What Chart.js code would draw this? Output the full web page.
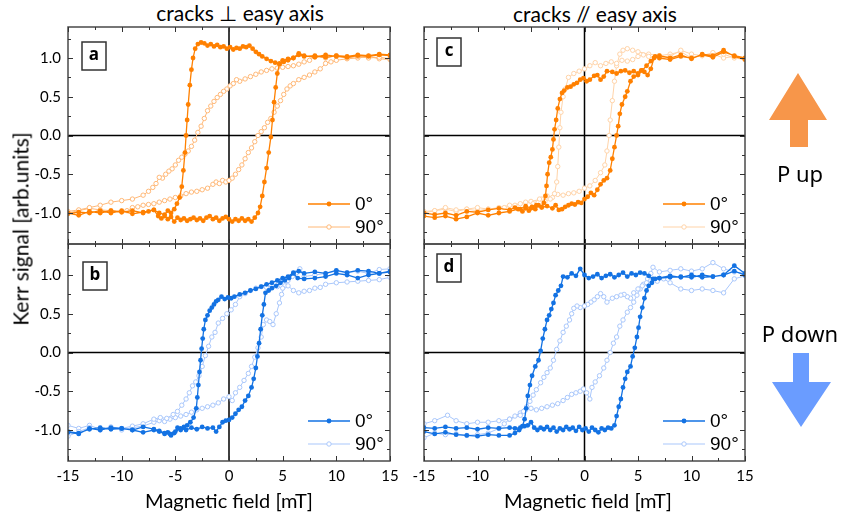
<!DOCTYPE html>
<html>
<head>
<meta charset="utf-8">
<script src="https://cdn.jsdelivr.net/npm/chart.js@4.4.1/dist/chart.umd.min.js"></script>
<style>
  body { margin: 0; background: #fff; width: 841px; height: 517px; position: relative; overflow: hidden; }
  canvas { position: absolute; }
  .t { position: absolute; white-space: nowrap; color: #000; transform: translate(-50%, -50%); }
  .col { font-family: "Lato"; font-size: 21px; top: 13px; }
  .xt { font-family: "Lato"; font-size: 20px; top: 500px; }
  .yt { font-family: "Lato"; font-size: 21px; left: 20px; top: 229px; transform: translate(-50%, -50%) rotate(-90deg); }
  .p { font-family: "Noto Sans"; font-size: 22px; left: 800px; }
</style>
</head>
<body>
<div class="t col" style="left:240px">cracks ⊥ easy axis</div>
<div class="t col" style="left:595px">cracks // easy axis</div>
<canvas id="chartA" width="410" height="257" style="left:0;top:7px"></canvas>
<canvas id="chartC" width="400" height="257" style="left:400px;top:7px"></canvas>
<canvas id="chartB" width="410" height="276" style="left:0;top:224px"></canvas>
<canvas id="chartD" width="400" height="276" style="left:400px;top:224px"></canvas>
<div class="t yt">Kerr signal [arb.units]</div>
<div class="t xt" style="left:229px">Magnetic field [mT]</div>
<div class="t xt" style="left:588px">Magnetic field [mT]</div>
<svg style="position:absolute;left:760px;top:60px" width="80" height="380">
  <polygon points="38,13 67,60 48,60 48,87 30,87 30,60 9,60" fill="#f7964a"/>
  <polygon points="33,293 49,293 49,322 71,322 41,367 12,322 33,322" fill="#6a9cff"/>
</svg>
<div class="t p" style="top:173px">P up</div>
<div class="t p" style="top:333px">P down</div>
<script>
// axis ticks
const xMajor = [-15, -10, -5, 0, 5, 10, 15];
const xMinor = [-12.5, -7.5, -2.5, 2.5, 7.5, 12.5];
const yMajor = [-1.0, -0.5, 0.0, 0.5, 1.0];
const yMinor = [-1.25, -0.75, -0.25, 0.25, 0.75, 1.25];
const seriesLabels = ['0°', '90°'];

// panel a: cracks perpendicular, P up  [field mT, Kerr]
const aUp0 = [[-15,-1.0],[-14,-1.03],[-13,-0.98],[-12,-1.0],[-11,-0.97],[-10,-0.99],[-9,-0.97],[-8,-1.0],[-7.5,-0.98],[-7,-0.96],[-6.6,-1.04],[-6.3,-1.07],[-6,-1.04],[-5.7,-1.08],[-5.4,-1.05],[-5.1,-1.11],[-4.8,-1.06],[-4.5,-1.09],[-4.2,-1.07],[-3.9,-1.1],[-3.6,-1.08],[-3.3,-1.06],[-3,-1.09],[-2.7,-1.07],[-2.4,-1.1],[-2.1,-1.06],[-1.8,-1.04],[-1.5,-1.08],[-1.2,-1.06],[-0.9,-1.1],[-0.6,-1.07],[-0.3,-1.05],[0,-1.08],[0.3,-1.11],[0.6,-1.08],[0.9,-1.1],[1.2,-1.07],[1.5,-1.1],[1.8,-1.08],[2.1,-1.11],[2.4,-1.06],[2.7,-1.0],[2.9,-0.92],[3.1,-0.78],[3.3,-0.6],[3.5,-0.42],[3.7,-0.22],[3.9,-0.02],[4.05,0.2],[4.2,0.43],[4.35,0.62],[4.5,0.8],[4.7,0.92],[5.0,0.97],[5.5,0.99],[6,1.0],[6.5,1.04],[7,1.02],[8,1.03],[9,1.01],[10,1.03],[11,1.02],[12,1.04],[13,1.03],[14,1.05],[15,1.04]];
const aDown0 = [[15,1.03],[14,1.04],[13,1.02],[12,1.03],[11,1.01],[10,1.02],[9,1.04],[8,1.01],[7,1.03],[6.5,1.06],[6,1.0],[5.5,0.97],[5.1,0.95],[4.7,0.93],[4.3,0.94],[3.9,0.96],[3.5,0.99],[3.1,1.02],[2.8,1.05],[2.5,1.08],[2.2,1.12],[1.9,1.16],[1.6,1.14],[1.3,1.15],[1.0,1.12],[0.7,1.13],[0.4,1.11],[0.1,1.14],[-0.2,1.12],[-0.5,1.15],[-0.8,1.14],[-1.1,1.17],[-1.4,1.15],[-1.7,1.18],[-2,1.16],[-2.3,1.19],[-2.6,1.2],[-2.9,1.18],[-3.15,1.12],[-3.35,1.0],[-3.5,0.85],[-3.65,0.65],[-3.8,0.4],[-3.9,0.2],[-4.0,0.0],[-4.1,-0.22],[-4.25,-0.45],[-4.4,-0.66],[-4.6,-0.8],[-4.85,-0.88],[-5.1,-0.95],[-5.4,-1.0],[-5.7,-0.97],[-6,-1.02],[-6.5,-1.0],[-7,-0.96],[-8,-0.99],[-9,-1.01],[-10,-0.97],[-11,-1.0],[-12,-0.97],[-13,-1.0],[-14,-0.99],[-15,-1.01]];
const aUp90 = [[-15,-1.0],[-14,-0.97],[-13,-0.94],[-12,-0.96],[-11,-0.97],[-10,-0.98],[-9.5,-0.97],[-9,-0.93],[-8.5,-0.92],[-8,-0.9],[-7.5,-0.89],[-7,-0.88],[-6.5,-0.86],[-6,-0.84],[-5.5,-0.82],[-5,-0.8],[-4.5,-0.78],[-4,-0.75],[-3.5,-0.73],[-3,-0.72],[-2.5,-0.7],[-2,-0.68],[-1.5,-0.63],[-1.2,-0.6],[-0.9,-0.62],[-0.6,-0.58],[-0.3,-0.6],[0,-0.58],[0.3,-0.55],[0.6,-0.5],[0.9,-0.44],[1.2,-0.38],[1.5,-0.3],[1.8,-0.22],[2.1,-0.16],[2.4,-0.08],[2.7,0.0],[3.0,0.05],[3.3,0.1],[3.6,0.17],[3.9,0.22],[4.2,0.3],[4.5,0.38],[4.8,0.45],[5.1,0.53],[5.4,0.6],[5.7,0.64],[6,0.67],[6.5,0.72],[7,0.75],[7.5,0.78],[8,0.82],[8.5,0.86],[9,0.93],[9.5,0.95],[10,0.97],[11,0.99],[12,1.0],[13,1.02],[14,0.99],[15,0.98]];
const aDown90 = [[15,0.99],[14,1.01],[13,1.0],[12,1.02],[11,1.0],[10,1.03],[9,1.0],[8,1.02],[7.5,0.97],[7,0.95],[6.5,0.92],[6,0.9],[5.5,0.89],[5,0.88],[4.5,0.87],[4,0.86],[3.5,0.84],[3,0.82],[2.5,0.79],[2,0.76],[1.5,0.73],[1.0,0.7],[0.7,0.72],[0.4,0.67],[0.1,0.64],[-0.2,0.6],[-0.5,0.57],[-0.8,0.53],[-1.1,0.49],[-1.4,0.44],[-1.7,0.38],[-2.0,0.32],[-2.3,0.22],[-2.6,0.12],[-2.9,0.04],[-3.2,-0.06],[-3.5,-0.14],[-3.8,-0.2],[-4.1,-0.24],[-4.4,-0.28],[-4.7,-0.32],[-5,-0.38],[-5.3,-0.43],[-5.6,-0.46],[-5.9,-0.5],[-6.2,-0.55],[-6.5,-0.54],[-6.8,-0.62],[-7.1,-0.67],[-7.5,-0.72],[-8,-0.77],[-9,-0.82],[-10,-0.84],[-11,-0.86],[-12,-0.9],[-13,-0.93],[-14,-0.96],[-15,-0.98]];

// panel c: cracks parallel, P up
const cUp0 = [[-15,-1.0],[-14,-1.02],[-13,-1.0],[-12,-1.03],[-11,-0.98],[-10,-0.99],[-9,-0.96],[-8,-0.94],[-7,-0.96],[-6.5,-0.93],[-6,-0.95],[-5.5,-0.91],[-5,-0.94],[-4.5,-0.9],[-4,-0.93],[-3.5,-0.91],[-3,-0.94],[-2.7,-0.9],[-2.4,-0.96],[-2.1,-0.95],[-1.8,-0.92],[-1.5,-0.9],[-1.2,-0.88],[-0.9,-0.89],[-0.6,-0.86],[-0.3,-0.87],[0,-0.82],[0.3,-0.79],[0.6,-0.74],[0.9,-0.77],[1.2,-0.7],[1.5,-0.63],[1.8,-0.58],[2.1,-0.55],[2.4,-0.45],[2.6,-0.3],[2.8,-0.15],[3.0,0.0],[3.15,0.12],[3.3,0.28],[3.5,0.4],[3.8,0.5],[4.0,0.57],[4.3,0.7],[4.6,0.76],[5.0,0.78],[5.4,0.84],[5.8,0.9],[6.2,0.96],[6.6,1.02],[7,1.0],[8,0.98],[9,1.02],[10,1.0],[11,1.04],[12,1.01],[13,1.08],[14,1.03],[15,1.0]];
const cDown0 = [[15,0.98],[14,1.02],[13,1.1],[12,1.03],[11,1.05],[10,0.99],[9,1.04],[8,1.0],[7,1.03],[6.5,1.0],[6.2,0.86],[5.9,0.78],[5.6,0.82],[5.3,0.84],[5.0,0.8],[4.6,0.83],[4.2,0.81],[3.8,0.84],[3.4,0.83],[3.0,0.8],[2.6,0.82],[2.1,0.83],[1.8,0.76],[1.5,0.72],[1.2,0.78],[0.9,0.77],[0.5,0.72],[0.2,0.7],[-0.1,0.74],[-0.4,0.72],[-0.7,0.68],[-1.0,0.66],[-1.3,0.63],[-1.6,0.62],[-1.9,0.58],[-2.1,0.55],[-2.3,0.47],[-2.5,0.35],[-2.65,0.2],[-2.8,0.08],[-2.9,-0.05],[-3.0,-0.18],[-3.15,-0.28],[-3.3,-0.35],[-3.45,-0.5],[-3.55,-0.65],[-3.65,-0.78],[-3.8,-0.87],[-4.0,-0.92],[-4.3,-0.9],[-4.6,-0.95],[-4.9,-0.92],[-5.2,-0.97],[-5.5,-0.94],[-5.8,-0.98],[-6.2,-0.95],[-7,-0.98],[-8,-1.0],[-9,-1.03],[-10,-1.0],[-11,-1.05],[-12,-1.08],[-13,-1.04],[-14,-1.06],[-15,-1.04]];
const cUp90 = [[-15,-1.0],[-14,-0.97],[-13,-0.95],[-12,-0.98],[-11,-0.95],[-10,-0.97],[-9,-0.95],[-8,-0.93],[-7,-0.9],[-6,-0.88],[-5,-0.85],[-4,-0.82],[-3.5,-0.78],[-3,-0.8],[-2.5,-0.76],[-2,-0.77],[-1.5,-0.75],[-1,-0.74],[-0.5,-0.72],[0,-0.68],[0.5,-0.65],[1,-0.58],[1.5,-0.48],[1.9,-0.38],[2.1,-0.2],[2.3,0.0],[2.4,0.2],[2.6,0.45],[2.8,0.7],[3.0,0.9],[3.3,1.05],[3.6,1.1],[4,1.12],[4.5,1.1],[5,1.08],[6,1.05],[7,1.03],[8,1.05],[9,1.08],[10,1.0],[11,1.03],[12,1.05],[13,1.0],[14,1.02],[15,0.98]];
const cDown90 = [[15,0.98],[14,1.0],[13,1.05],[12,1.07],[11,1.03],[10,1.05],[9,1.1],[8,1.02],[7,1.0],[6,1.02],[5.5,1.04],[5,1.02],[4.5,0.98],[4,0.96],[3.5,0.97],[3,0.93],[2.5,0.95],[2,0.93],[1.5,0.9],[1,0.94],[0.5,0.9],[0,0.86],[-0.5,0.83],[-1,0.8],[-1.5,0.75],[-1.8,0.6],[-2.0,0.5],[-2.2,0.3],[-2.3,0.1],[-2.4,-0.15],[-2.5,-0.4],[-2.6,-0.6],[-2.8,-0.75],[-3.2,-0.82],[-3.7,-0.85],[-4.2,-0.82],[-4.8,-0.88],[-5.5,-0.86],[-6.5,-0.9],[-7.5,-0.93],[-9,-0.95],[-10,-0.93],[-11,-0.95],[-12,-0.96],[-13,-0.93],[-14,-0.97],[-15,-0.98]];

// panel b: cracks perpendicular, P down
const bUp0 = [[-15,-1.02],[-14,-1.04],[-13,-0.99],[-12,-0.97],[-11,-0.99],[-10,-0.98],[-9,-1.0],[-8,-0.96],[-7,-0.99],[-6.5,-1.01],[-6,-1.04],[-5.5,-1.05],[-5,-1.02],[-4.5,-0.98],[-4,-1.0],[-3.5,-0.97],[-3,-0.99],[-2.5,-0.96],[-2,-0.98],[-1.5,-0.97],[-1.2,-1.02],[-0.9,-0.96],[-0.6,-0.9],[-0.3,-0.88],[0,-0.87],[0.3,-0.84],[0.6,-0.79],[0.9,-0.74],[1.2,-0.7],[1.5,-0.62],[1.8,-0.56],[2.1,-0.45],[2.3,-0.34],[2.5,-0.2],[2.65,-0.05],[2.8,0.12],[2.95,0.3],[3.1,0.48],[3.25,0.62],[3.4,0.77],[3.7,0.8],[4.0,0.83],[4.4,0.86],[4.8,0.9],[5.2,0.93],[5.6,0.96],[6,1.02],[6.4,0.96],[7,0.95],[8,0.96],[9,0.98],[10,1.02],[11,1.0],[12,0.96],[13,1.0],[14,1.02],[15,1.05]];
const bDown0 = [[15,1.04],[14,1.02],[13,1.05],[12,1.06],[11,1.03],[10,1.06],[9,1.02],[8,1.04],[7,1.02],[6.5,1.05],[6,1.03],[5.5,0.98],[5,0.96],[4.5,0.93],[4,0.9],[3.5,0.88],[3,0.85],[2.5,0.82],[2,0.8],[1.5,0.77],[1,0.75],[0.5,0.72],[0.2,0.7],[-0.1,0.71],[-0.4,0.69],[-0.7,0.72],[-1.0,0.68],[-1.2,0.66],[-1.4,0.62],[-1.6,0.58],[-1.8,0.54],[-2.0,0.48],[-2.2,0.42],[-2.35,0.3],[-2.45,0.18],[-2.55,0.05],[-2.65,-0.1],[-2.75,-0.25],[-2.85,-0.42],[-2.95,-0.58],[-3.05,-0.72],[-3.3,-0.84],[-3.6,-0.9],[-3.9,-0.94],[-4.2,-0.96],[-4.5,-1.0],[-4.8,-0.97],[-5.1,-1.04],[-5.4,-1.07],[-5.7,-1.03],[-6,-1.05],[-6.5,-1.02],[-7,-1.0],[-8,-1.03],[-9,-1.0],[-10,-0.98],[-11,-0.97],[-12,-1.0],[-13,-0.98],[-14,-1.05],[-15,-1.03]];
const bUp90 = [[-15,-0.94],[-14,-0.98],[-13,-0.94],[-12,-0.99],[-11,-0.97],[-10,-1.0],[-9,-0.97],[-8,-0.95],[-7,-0.9],[-6.5,-0.88],[-6,-0.89],[-5.5,-0.86],[-5,-0.84],[-4.5,-0.82],[-4,-0.8],[-3.5,-0.77],[-3,-0.74],[-2.5,-0.72],[-2,-0.7],[-1.5,-0.68],[-1,-0.65],[-0.5,-0.6],[0,-0.57],[0.3,-0.62],[0.6,-0.52],[1,-0.45],[1.4,-0.36],[1.8,-0.27],[2.1,-0.18],[2.4,-0.06],[2.7,0.06],[3.0,0.2],[3.2,0.36],[3.5,0.42],[3.8,0.4],[4.1,0.36],[4.4,0.5],[4.7,0.64],[4.9,0.75],[5.2,0.86],[5.5,0.93],[5.9,0.98],[6.3,1.03],[6.6,1.08],[7,0.98],[8,1.0],[9,1.02],[10,1.05],[11,1.03],[12,1.05],[13,1.02],[14,1.07],[15,1.08]];
const bDown90 = [[15,0.97],[14,0.94],[13,0.93],[12,0.92],[11,0.91],[10,0.9],[9,0.88],[8.5,0.84],[8,0.83],[7.5,0.8],[7,0.79],[6.5,0.77],[6,0.8],[5.5,0.86],[5,0.83],[4.5,0.85],[4,0.86],[3.5,0.84],[3,0.85],[2.5,0.83],[2,0.8],[1.5,0.76],[1.0,0.72],[0.6,0.62],[0.2,0.55],[-0.2,0.5],[-0.6,0.44],[-1,0.38],[-1.3,0.26],[-1.6,0.2],[-1.9,0.08],[-2.2,-0.04],[-2.5,-0.18],[-2.8,-0.3],[-3.1,-0.38],[-3.4,-0.43],[-3.7,-0.52],[-4,-0.6],[-4.4,-0.68],[-4.8,-0.76],[-5.2,-0.8],[-5.8,-0.85],[-6.4,-0.84],[-7,-0.86],[-8,-0.92],[-9,-0.95],[-10,-0.98],[-11,-0.96],[-12,-1.0],[-13,-0.97],[-14,-1.02],[-15,-1.08]];

// panel d: cracks parallel, P down
const dUp0 = [[-15,-0.97],[-14,-0.98],[-13,-0.96],[-12,-0.98],[-11,-0.97],[-10,-0.99],[-9,-0.97],[-8,-0.98],[-7,-0.97],[-6.5,-0.98],[-6,-0.97],[-5.6,-0.95],[-5.3,-0.94],[-5,-0.9],[-4.7,-0.97],[-4.4,-1.0],[-4.1,-0.97],[-3.8,-0.99],[-3.5,-0.96],[-3.2,-1.0],[-2.9,-0.97],[-2.6,-1.02],[-2.3,-0.98],[-2.0,-1.0],[-1.7,-0.96],[-1.4,-0.99],[-1.1,-0.97],[-0.8,-1.01],[-0.5,-0.96],[-0.2,-1.0],[0.1,-0.98],[0.4,-1.02],[0.7,-0.97],[1.0,-1.0],[1.3,-1.03],[1.6,-0.98],[1.9,-1.0],[2.2,-0.97],[2.5,-0.98],[2.8,-0.94],[3.0,-0.82],[3.2,-0.7],[3.4,-0.6],[3.6,-0.45],[3.8,-0.34],[4.0,-0.25],[4.3,-0.18],[4.5,-0.05],[4.7,0.06],[4.9,0.2],[5.05,0.32],[5.2,0.46],[5.4,0.58],[5.6,0.7],[5.8,0.8],[6.0,0.86],[6.3,0.9],[6.6,0.95],[7,0.96],[8,0.97],[9,0.98],[10,0.97],[11,1.0],[12,0.98],[13,1.0],[14,1.05],[15,1.0]];
const dDown0 = [[15,1.02],[14,1.12],[13,1.0],[12,0.98],[11,0.97],[10,1.0],[9,0.97],[8,0.99],[7,0.96],[6.4,0.95],[6,0.99],[5.6,1.02],[5.2,1.03],[4.8,1.0],[4.4,1.02],[4.0,0.98],[3.6,1.03],[3.2,1.0],[2.8,0.97],[2.4,1.01],[2.0,0.99],[1.6,0.96],[1.2,1.01],[0.8,0.98],[0.4,0.96],[0,1.0],[-0.4,1.08],[-0.8,0.99],[-1.2,1.02],[-1.6,0.97],[-2.0,0.98],[-2.2,0.86],[-2.45,0.8],[-2.7,0.74],[-2.9,0.64],[-3.1,0.56],[-3.3,0.48],[-3.5,0.42],[-3.7,0.3],[-3.9,0.18],[-4.1,0.02],[-4.3,-0.1],[-4.6,-0.18],[-4.9,-0.3],[-5.1,-0.42],[-5.3,-0.56],[-5.45,-0.72],[-5.6,-0.86],[-5.8,-0.95],[-6.1,-1.0],[-6.5,-1.04],[-7,-1.07],[-8,-1.07],[-9,-1.06],[-10,-1.08],[-11,-1.07],[-12,-1.06],[-13,-1.03],[-14,-1.05],[-15,-1.02]];
const dUp90 = [[-15,-1.1],[-14,-1.04],[-13,-1.06],[-12,-1.05],[-11,-1.07],[-10,-1.06],[-9,-1.04],[-8,-0.98],[-7.5,-0.92],[-7,-0.86],[-6.5,-0.82],[-6,-0.78],[-5.5,-0.74],[-5,-0.72],[-4.5,-0.74],[-4,-0.72],[-3.5,-0.7],[-3,-0.68],[-2.5,-0.66],[-2,-0.62],[-1.6,-0.58],[-1.2,-0.54],[-0.8,-0.52],[-0.4,-0.5],[-0.1,-0.47],[0.2,-0.52],[0.5,-0.6],[0.7,-0.45],[1.0,-0.38],[1.4,-0.3],[1.8,-0.2],[2.1,-0.1],[2.4,0.0],[2.7,0.12],[3.0,0.2],[3.3,0.34],[3.6,0.42],[4.0,0.52],[4.3,0.58],[4.6,0.65],[4.9,0.74],[5.2,0.82],[5.5,0.88],[5.9,0.95],[6.2,1.02],[6.4,1.1],[7,1.04],[8,1.06],[9,1.08],[10,1.05],[11,1.08],[12,1.16],[13,1.08],[14,1.04],[15,1.02]];
const dDown90 = [[15,0.99],[14,0.95],[13,0.77],[12,0.8],[11,0.82],[10,0.8],[9,0.82],[8,0.9],[7.4,0.95],[6.8,0.92],[6.2,0.93],[5.8,0.9],[5.4,0.86],[5.0,0.82],[4.6,0.77],[4.3,0.7],[4.0,0.72],[3.7,0.75],[3.4,0.74],[3.0,0.72],[2.6,0.7],[2.1,0.65],[1.8,0.72],[1.5,0.76],[1.2,0.72],[0.9,0.68],[0.6,0.65],[0.3,0.62],[0,0.6],[-0.4,0.58],[-0.7,0.6],[-1.0,0.57],[-1.2,0.5],[-1.4,0.42],[-1.7,0.34],[-2.0,0.26],[-2.3,0.15],[-2.6,0.04],[-2.9,-0.1],[-3.2,-0.2],[-3.5,-0.26],[-3.8,-0.32],[-4.1,-0.39],[-4.5,-0.48],[-4.8,-0.55],[-5.1,-0.63],[-5.4,-0.7],[-5.7,-0.76],[-6,-0.81],[-7,-0.86],[-8,-0.88],[-9,-0.9],[-10,-0.9],[-11,-0.92],[-12,-0.88],[-12.8,-0.81],[-14,-0.88],[-15,-0.92]];

function loop(up, down) {
  return up.concat(down).map(p => ({x: p[0], y: p[1]}));
}

// frame, zero lines, inward ticks, panel letter and legend
const deco = {
  id: 'deco',
  beforeDatasetsDraw(chart) {
    const {ctx, chartArea: a, scales: {x, y}} = chart;
    const x0 = x.getPixelForValue(0), y0 = y.getPixelForValue(0);
    ctx.save();
    ctx.strokeStyle = '#000';
    ctx.lineWidth = 1.5;
    ctx.beginPath();
    ctx.moveTo(x0, a.top); ctx.lineTo(x0, a.bottom);
    ctx.moveTo(a.left, y0); ctx.lineTo(a.right, y0);
    ctx.stroke();
    ctx.restore();
  },
  afterDraw(chart, args, opts) {
    const {ctx, chartArea: a, scales: {x, y}} = chart;
    ctx.save();
    ctx.strokeStyle = '#4a4a4a';
    ctx.lineWidth = 1.5;
    ctx.strokeRect(a.left, a.top, a.right - a.left, a.bottom - a.top);
    ctx.lineWidth = 1;
    ctx.strokeStyle = '#333';
    ctx.beginPath();
    const tickX = (v, len) => {
      const px = Math.round(x.getPixelForValue(v)) + 0.5;
      ctx.moveTo(px, a.bottom); ctx.lineTo(px, a.bottom - len);
      ctx.moveTo(px, a.top); ctx.lineTo(px, a.top + len);
    };
    const tickY = (v, len) => {
      const py = Math.round(y.getPixelForValue(v)) + 0.5;
      ctx.moveTo(a.left, py); ctx.lineTo(a.left + len, py);
      ctx.moveTo(a.right, py); ctx.lineTo(a.right - len, py);
    };
    xMajor.forEach(v => tickX(v, 5));
    xMinor.forEach(v => tickX(v, 3));
    yMajor.forEach(v => tickY(v, 5));
    yMinor.forEach(v => tickY(v, 3));
    ctx.stroke();

    // panel letter
    const bx = a.left + opts.box[0], by = a.top + opts.box[1];
    ctx.fillStyle = '#fff';
    ctx.fillRect(bx, by, 24, 28);
    ctx.strokeStyle = '#333';
    ctx.lineWidth = 1.5;
    ctx.strokeRect(bx, by, 24, 28);
    ctx.fillStyle = '#000';
    ctx.font = 'bold 17px "Open Sans"';
    ctx.textAlign = 'center';
    ctx.textBaseline = 'middle';
    ctx.fillText(opts.letter, bx + 12, by + 13);

    // legend
    ctx.textAlign = 'left';
    ctx.font = '19px "Liberation Sans"';
    chart.data.datasets.forEach((ds, i) => {
      const ly = a.bottom - 40 + i * 23;
      const lx = a.right - 82;
      ctx.strokeStyle = ds.borderColor;
      ctx.lineWidth = ds.borderWidth;
      ctx.beginPath();
      ctx.moveTo(lx, ly); ctx.lineTo(lx + 42, ly);
      ctx.stroke();
      ctx.beginPath();
      ctx.arc(lx + 21, ly, ds.pointRadius, 0, Math.PI * 2);
      ctx.fillStyle = ds.pointBackgroundColor;
      ctx.fill();
      if (ds.pointBorderWidth) {
        ctx.lineWidth = ds.pointBorderWidth;
        ctx.strokeStyle = ds.pointBorderColor;
        ctx.stroke();
      }
      ctx.fillStyle = '#000';
      ctx.fillText(ds.label, lx + 47, ly + 1);
    });
    ctx.restore();
  }
};

const tickFont = {family: 'Lato', size: 15};

function panel(id, letter, box, pts0, pts90, c0, c90, showX, showY, pad) {
  new Chart(document.getElementById(id), {
    type: 'scatter',
    data: {
      datasets: [
        {label: seriesLabels[0], data: pts0, showLine: true, borderColor: c0, backgroundColor: c0,
         borderWidth: 1.3, pointRadius: 2.4, pointBorderWidth: 0, pointBorderColor: c0, pointBackgroundColor: c0, order: 1},
        {label: seriesLabels[1], data: pts90, showLine: true, borderColor: c90, backgroundColor: '#fff',
         borderWidth: 1, pointRadius: 2.2, pointBorderWidth: 1, pointBorderColor: c90, pointBackgroundColor: '#fff', order: 2}
      ]
    },
    options: {
      responsive: false,
      animation: false,
      layout: {padding: pad},
      plugins: {legend: {display: false}, tooltip: {enabled: false}, deco: {letter: letter, box: box}},
      scales: {
        x: {
          type: 'linear', min: -15, max: 15, bounds: 'data',
          grid: {display: false, drawTicks: false}, border: {display: false},
          afterBuildTicks: s => { s.ticks = xMajor.map(v => ({value: v})); },
          ticks: {display: showX, font: tickFont, color: '#000', padding: 6, maxRotation: 0},
          afterFit: s => { s.height = showX ? 39 : 0; }
        },
        y: {
          type: 'linear', min: -1.4, max: 1.4, bounds: 'data',
          grid: {display: false, drawTicks: false}, border: {display: false},
          afterBuildTicks: s => { s.ticks = yMajor.map(v => ({value: v})); },
          ticks: {display: showY, font: tickFont, color: '#000', padding: 7, callback: v => v.toFixed(1)},
          afterFit: s => { s.width = showY ? 68 : 0; }
        }
      }
    },
    plugins: [deco]
  });
}

panel('chartA', 'a', [14, 15], loop(aUp0, aDown0), loop(aUp90, aDown90), '#ff8000', '#ffb877', false, true, {left: 0, top: 20, right: 20, bottom: 20});
panel('chartC', 'c', [13, 11], loop(cUp0, cDown0), loop(cUp90, cDown90), '#ff8000', '#ffd3a8', false, false, {left: 24, top: 20, right: 55, bottom: 20});
panel('chartB', 'b', [15, 18], loop(bUp0, bDown0), loop(bUp90, bDown90), '#1372e3', '#a9c7fb', true, true, {left: 0, top: 20, right: 20, bottom: 0});
panel('chartD', 'd', [13, 10], loop(dUp0, dDown0), loop(dUp90, dDown90), '#1372e3', '#a9c7fb', true, false, {left: 24, top: 20, right: 55, bottom: 0});
</script>
</body>
</html>
